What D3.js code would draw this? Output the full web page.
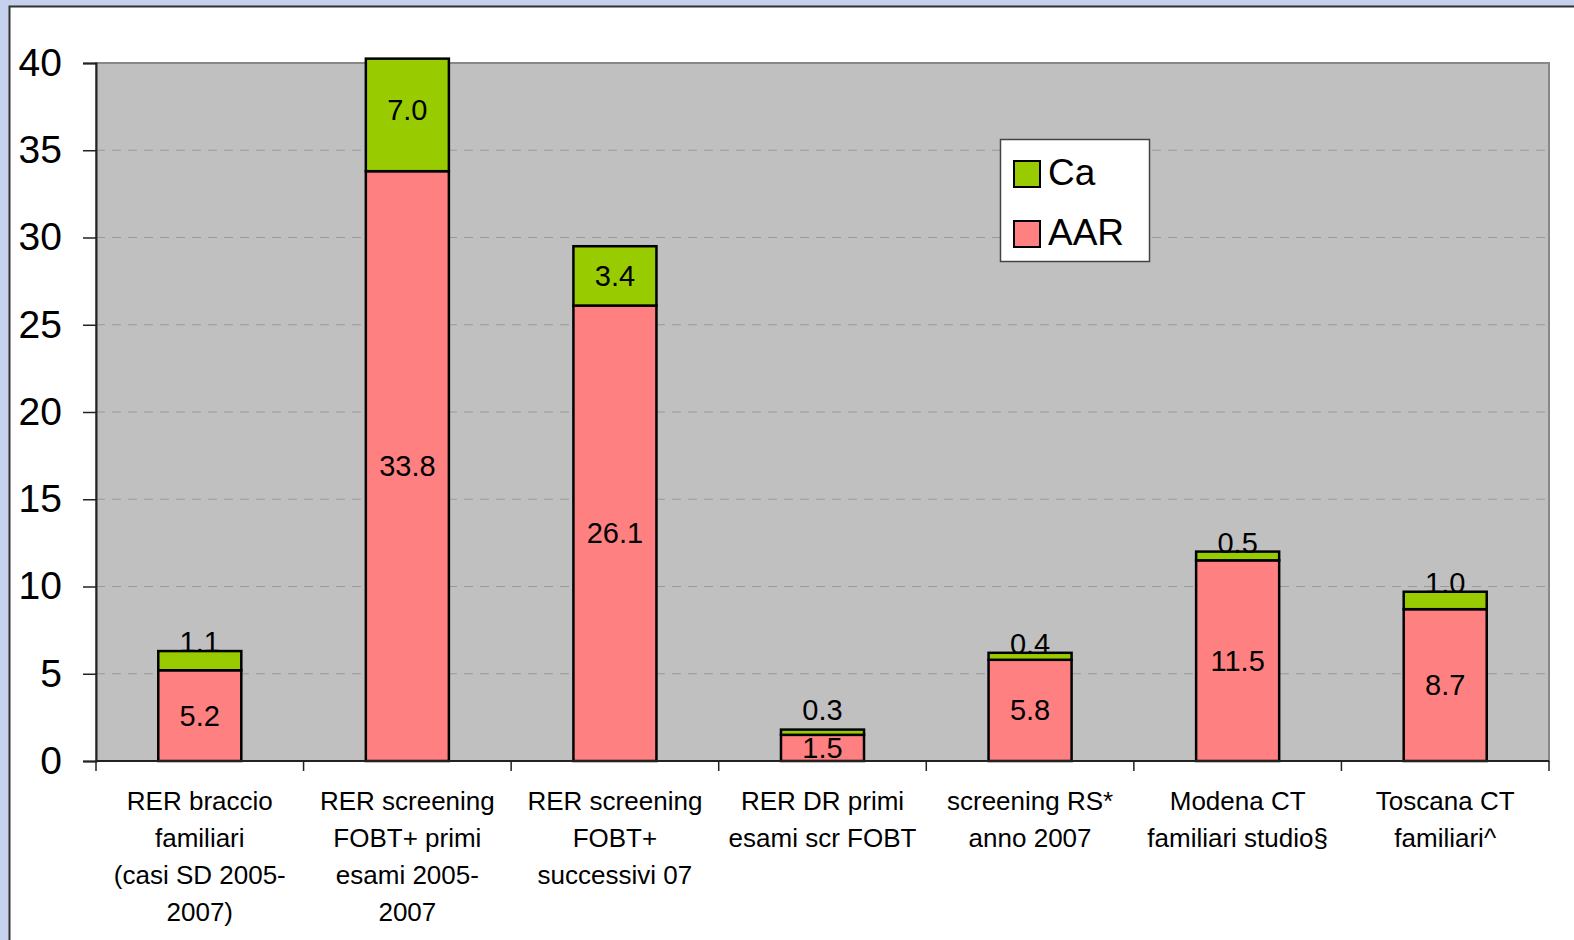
<!DOCTYPE html>
<html>
<head>
<meta charset="utf-8">
<script src="https://cdn.jsdelivr.net/npm/d3@7"></script>
<style>
  html, body { margin: 0; padding: 0; background: #c6d1ee; }
  svg { display: block; font-family: "Liberation Sans", Arial, sans-serif; }
</style>
</head>
<body>
<div id="chart"></div>
<script>
// Categorie (righe delle etichette)
var categories = [
    ["RER braccio", "familiari", "(casi SD 2005-", "2007)"],
    ["RER screening", "FOBT+ primi", "esami 2005-", "2007"],
    ["RER screening", "FOBT+", "successivi 07"],
    ["RER DR primi", "esami scr FOBT"],
    ["screening RS*", "anno 2007"],
    ["Modena CT", "familiari studio§"],
    ["Toscana CT", "familiari^"]
];
var aarValues = [5.2, 33.8, 26.1, 1.5, 5.8, 11.5, 8.7];
var caValues = [1.1, 7.0, 3.4, 0.3, 0.4, 0.5, 1.0];
var yTicks = [0, 5, 10, 15, 20, 25, 30, 35, 40];
var seriesNames = ["Ca", "AAR"];
var seriesColors = {"AAR": "#ff8080", "Ca": "#99cc00"};

var W = 1574, H = 940;
var plot = {left: 96, right: 1549, top: 63, bottom: 761};

var svg = d3.select("#chart").append("svg")
    .attr("width", W)
    .attr("height", H);

// Pannello bianco
svg.append("rect")
    .attr("x", 9.5).attr("y", 6.5)
    .attr("width", W).attr("height", H)
    .attr("fill", "#fff")
    .attr("stroke", "#333").attr("stroke-width", 2);

var x = d3.scaleBand()
    .domain(d3.range(categories.length))
    .range([plot.left, plot.right])
    .paddingInner(0.6).paddingOuter(0.3);

var xOuter = d3.scaleBand()
    .domain(d3.range(categories.length))
    .range([plot.left, plot.right]);

var y = d3.scaleLinear().domain([0, 40]).range([plot.bottom, plot.top]);

// Area del grafico
svg.append("rect")
    .attr("x", plot.left).attr("y", plot.top)
    .attr("width", plot.right - plot.left).attr("height", plot.bottom - plot.top)
    .attr("fill", "#c0c0c0")
    .attr("stroke", "#888").attr("stroke-width", 2);

// Griglia tratteggiata
svg.append("g").selectAll("line")
    .data(yTicks.filter(d => d > 0 && d < 40))
    .enter().append("line")
    .attr("x1", plot.left).attr("x2", plot.right)
    .attr("y1", d => y(d)).attr("y2", d => y(d))
    .attr("stroke", "#999").attr("stroke-width", 1)
    .attr("stroke-dasharray", "9,7");

// Asse Y
var yAxis = svg.append("g")
    .attr("transform", "translate(" + plot.left + ",0)")
    .call(d3.axisLeft(y).tickValues(yTicks).tickSize(13).tickPadding(21).tickFormat(d3.format("d")));
yAxis.select(".domain").attr("stroke", "#222").attr("stroke-width", 2);
yAxis.selectAll(".tick line").attr("stroke", "#222").attr("stroke-width", 1.5);
yAxis.selectAll(".tick text")
    .style("font-size", "39px")
    .style("font-family", "'Liberation Sans', Arial, sans-serif")
    .attr("fill", "#000");

// Barre impilate
var stackData = categories.map((c, i) => ({i: i, AAR: aarValues[i], Ca: caValues[i]}));
var stack = d3.stack().keys(["AAR", "Ca"]);
var layers = stack(stackData);

var yMax = y.domain()[1];
var clampV = v => Math.min(v, yMax + 0.25);

layers.forEach(function(layer) {
    var key = layer.key;
    svg.append("g").selectAll("rect")
        .data(layer)
        .enter().append("rect")
        .attr("x", d => x(d.data.i))
        .attr("width", x.bandwidth())
        .attr("y", d => y(clampV(d[1])))
        .attr("height", d => y(clampV(d[0])) - y(clampV(d[1])))
        .attr("fill", seriesColors[key])
        .attr("stroke", "#000").attr("stroke-width", 2.5);
});

// Etichette dei valori
function labelY(layerKey, d) {
    var base = y((d[0] + d[1]) / 2) + 10;
    if (layerKey === "Ca" && y(d[0]) - y(d[1]) < 26) {
        var aarBase = y(d[0] / 2) + 10;
        return Math.min(y(d[1]) + 1, aarBase - 38);
    }
    return base;
}
layers.forEach(function(layer) {
    svg.append("g").selectAll("text")
        .data(layer)
        .enter().append("text")
        .attr("x", d => x(d.data.i) + x.bandwidth() / 2)
        .attr("y", d => labelY(layer.key, d))
        .attr("text-anchor", "middle")
        .style("font-size", "29px")
        .attr("fill", "#000")
        .text(d => d3.format(".1f")(d[1] - d[0]));
});

// Asse X
svg.append("line")
    .attr("x1", plot.left).attr("x2", plot.right)
    .attr("y1", plot.bottom).attr("y2", plot.bottom)
    .attr("stroke", "#222").attr("stroke-width", 2);

svg.append("g").selectAll("line")
    .data(d3.range(categories.length + 1))
    .enter().append("line")
    .attr("x1", d => d < categories.length ? xOuter(d) : plot.right)
    .attr("x2", d => d < categories.length ? xOuter(d) : plot.right)
    .attr("y1", plot.bottom).attr("y2", plot.bottom + 10)
    .attr("stroke", "#222").attr("stroke-width", 1.5);

var catG = svg.append("g").selectAll("text")
    .data(categories)
    .enter().append("text")
    .attr("text-anchor", "middle")
    .style("font-size", "26px")
    .attr("fill", "#000");
catG.selectAll("tspan")
    .data((d, i) => d.map(t => ({t: t, i: i})))
    .enter().append("tspan")
    .attr("x", d => xOuter(d.i) + xOuter.bandwidth() / 2)
    .attr("y", (d, j) => 810 + j * 37)
    .text(d => d.t);

// Legenda
var legend = svg.append("g").attr("transform", "translate(1000,139)");
legend.append("rect")
    .attr("x", 0.5).attr("y", 0.5)
    .attr("width", 149).attr("height", 122)
    .attr("fill", "#fff")
    .attr("stroke", "#444").attr("stroke-width", 1.5);
var li = legend.selectAll("g.item")
    .data(seriesNames)
    .enter().append("g")
    .attr("class", "item")
    .attr("transform", (d, i) => "translate(14," + (22 + i * 60) + ")");
li.append("rect")
    .attr("width", 26).attr("height", 26)
    .attr("fill", d => seriesColors[d])
    .attr("stroke", "#000").attr("stroke-width", 2);
li.append("text")
    .attr("x", 34).attr("y", 24)
    .style("font-size", "37px")
    .attr("fill", "#000")
    .text(d => d);
</script>
</body>
</html>
